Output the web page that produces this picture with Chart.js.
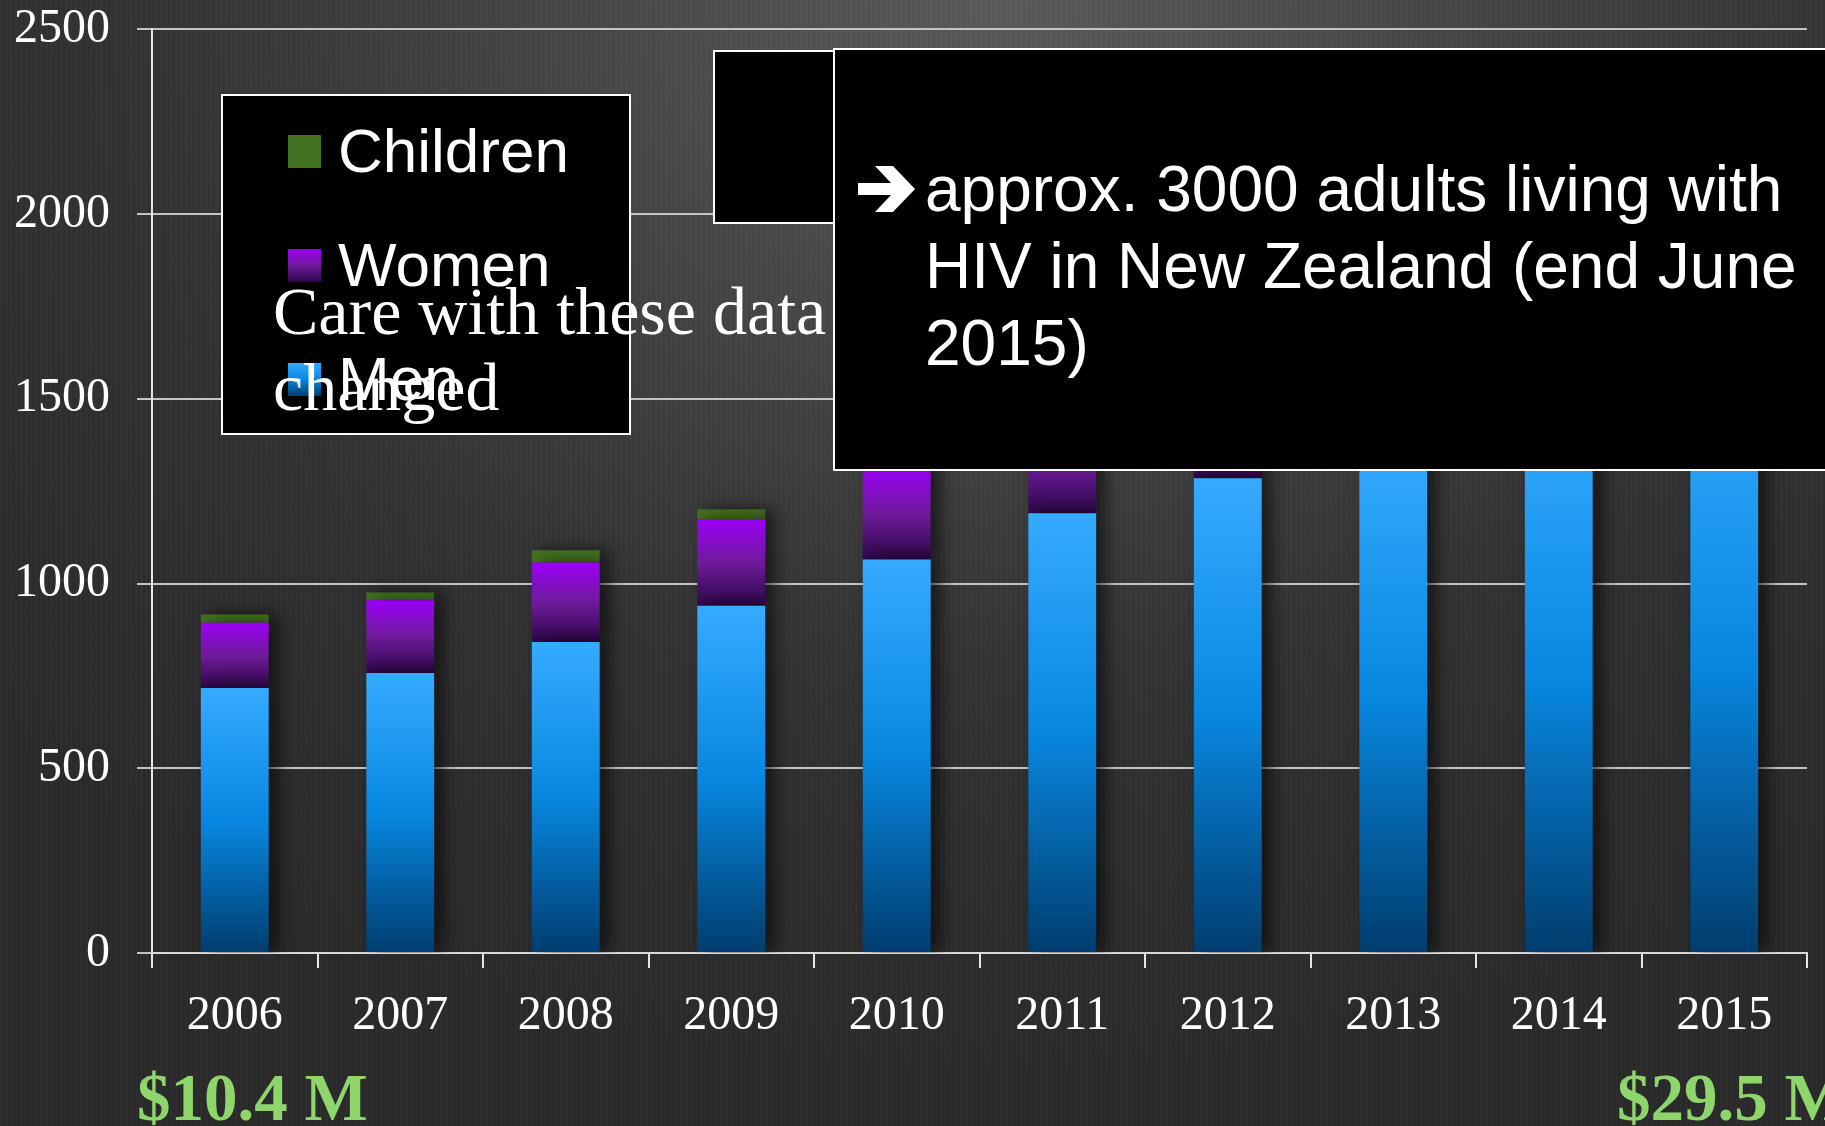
<!DOCTYPE html>
<html lang="en">

<head>
    <meta charset="UTF-8">
    <title>People living with HIV in New Zealand</title>
    <script src="https://cdn.jsdelivr.net/npm/chart.js"></script>
    <style>
        html, body {
            margin: 0;
            padding: 0;
            overflow: hidden;
        }

        #slide {
            position: relative;
            width: 1825px;
            height: 1126px;
            background:
                repeating-linear-gradient(90deg, rgba(255,255,255,0.015) 0px, rgba(255,255,255,0.015) 2px, rgba(0,0,0,0.02) 3px, rgba(0,0,0,0.02) 5px),
                radial-gradient(ellipse 75% 95% at 55% 0%, #5a5a5a 0%, #444 35%, #323232 65%, #2a2a2a 100%);
            font-family: "Liberation Sans", Arial, sans-serif;
            color: #fff;
        }

        #chartBox {
            position: absolute;
            left: 0;
            top: 0;
            width: 1825px;
            height: 1126px;
        }

        .box {
            position: absolute;
            background: #000;
            border: 2px solid #fff;
            box-sizing: border-box;
        }

        .legend-item {
            position: absolute;
            left: 338px;
            font-size: 62px;
            line-height: 62px;
            white-space: nowrap;
        }

        .swatch {
            position: absolute;
            left: 288px;
            width: 33px;
            height: 33px;
        }

        .note {
            position: absolute;
            font-family: "Liberation Serif", "Times New Roman", serif;
            white-space: nowrap;
        }

        .money {
            position: absolute;
            top: 1064px;
            font-family: "Liberation Serif", "Times New Roman", serif;
            font-weight: bold;
            font-size: 67px;
            line-height: 67px;
            color: #8ed66b;
            white-space: nowrap;
        }
    </style>
</head>

<body>
    <div id="slide">
        <div id="chartBox"><canvas id="hivChart"></canvas></div>

        <!-- legend box -->
        <div class="box" style="left:221px; top:94px; width:410px; height:341px;"></div>
        <div id="legend"></div>

        <div class="note" style="left:273px; top:273px; font-size:68px; line-height:76px;">Care with these data<br>changed</div>

        <!-- boxes top right -->
        <div class="box" style="left:713px; top:50px; width:124px; height:174px;"></div>
        <div class="box" style="left:833px; top:48px; width:1010px; height:423px;"></div>
        <svg style="position:absolute; left:0; top:0;" width="1825" height="300">
            <polygon fill="#fff" points="858,183 891,183 875,166 893,166 915,189 893,212 875,212 891,195 858,195"></polygon>
        </svg>
        <div style="position:absolute; left:925px; top:151px; font-size:64px; line-height:77px; white-space:nowrap;">approx. 3000 adults living with<br>HIV in New Zealand (end June<br>2015)</div>

        <div class="money" style="left:137px;">$10.4 M</div>
        <div class="money" style="left:1617px;">$29.5 M</div>
    </div>

    <script>
        const years = ["2006", "2007", "2008", "2009", "2010", "2011", "2012", "2013", "2014", "2015"];
        const men = [717, 758, 842, 940, 1065, 1190, 1285, 1380, 1475, 1570];
        const women = [177, 197, 215, 234, 250, 262, 275, 285, 295, 305];
        const children = [22, 21, 33, 27, 30, 30, 30, 30, 30, 30];
        const yTicks = [0, 500, 1000, 1500, 2000, 2500];

        const seriesNames = ["Men", "Women", "Children"];
        const series = [men, women, children];

        const menStops = [[0, "#35abff"], [0.5, "#0887e0"], [1, "#003d6e"]];
        const womenStops = [[0, "#9b00f7"], [0.5, "#6e1b9b"], [1, "#2c0747"]];
        const childColor = "#42721f";

        // gradient from the top of each stacked piece to its bottom
        function barFill(stops, k) {
            return function (c) {
                const chart = c.chart;
                const y = chart.scales.y;
                if (!chart.chartArea || !y || c.dataIndex === undefined) return stops[0][1];
                let base = 0;
                for (let j = 0; j < k; j++) base += series[j][c.dataIndex];
                const top = base + series[k][c.dataIndex];
                const g = chart.ctx.createLinearGradient(0, y.getPixelForValue(top), 0, y.getPixelForValue(base));
                stops.forEach(s => g.addColorStop(s[0], s[1]));
                return g;
            };
        }

        function cssGrad(stops) {
            return "linear-gradient(" + stops.map(s => s[1] + " " + (s[0] * 100) + "%").join(", ") + ")";
        }

        // legend built by hand, top entry first
        const legendEl = document.getElementById("legend");
        const legendFills = { Children: childColor, Women: cssGrad(womenStops), Men: cssGrad(menStops) };
        ["Children", "Women", "Men"].forEach(function (name, i) {
            const top = 135 + i * 114;
            legendEl.innerHTML += `<div class="swatch" style="top:${top}px; background:${legendFills[name]}"></div>` +
                `<div class="legend-item" style="top:${top - 15}px">${name}</div>`;
        });

        const barShadow = {
            id: "barShadow",
            beforeDatasetsDraw(chart) {
                const ctx = chart.ctx;
                ctx.save();
                ctx.shadowColor = "rgba(0,0,0,0.6)";
                ctx.shadowBlur = 16;
                ctx.shadowOffsetX = 9;
                ctx.shadowOffsetY = 0;
            },
            afterDatasetsDraw(chart) {
                chart.ctx.restore();
            }
        };

        Chart.defaults.font.family = "'Liberation Serif', 'Times New Roman', serif";
        Chart.defaults.color = "#ffffff";

        const ctx = document.getElementById("hivChart").getContext("2d");
        new Chart(ctx, {
            type: "bar",
            data: {
                labels: years,
                datasets: [
                    { label: seriesNames[0], data: men, backgroundColor: barFill(menStops, 0) },
                    { label: seriesNames[1], data: women, backgroundColor: barFill(womenStops, 1) },
                    { label: seriesNames[2], data: children, backgroundColor: childColor }
                ]
            },
            options: {
                responsive: true,
                maintainAspectRatio: false,
                animation: false,
                layout: { padding: { left: 13, right: 18, top: 2, bottom: 86 } },
                datasets: {
                    bar: { categoryPercentage: 1, barPercentage: 0.41, borderWidth: 0 }
                },
                plugins: {
                    legend: { display: false },
                    tooltip: { enabled: false }
                },
                scales: {
                    x: {
                        stacked: true,
                        afterFit(scale) { scale.height = 87; },
                        grid: { offset: true, drawOnChartArea: false, color: "#e6e6e6", lineWidth: 2, tickLength: 15 },
                        border: { display: true, color: "#d8d8d8", width: 2 },
                        ticks: { font: { size: 48 }, padding: 20, color: "#ffffff" }
                    },
                    y: {
                        stacked: true,
                        min: 0,
                        max: 2500,
                        afterFit(scale) { scale.width = 139; },
                        afterBuildTicks(scale) { scale.ticks = yTicks.map(v => ({ value: v })); },
                        grid: { color: "#c4c4c4", lineWidth: 2, tickLength: 15 },
                        border: { display: true, color: "#e6e6e6", width: 2 },
                        // small lineHeight only trims the space Chart.js reserves above the top label
                        ticks: { font: { size: 48, lineHeight: 0.1 }, padding: 27, color: "#ffffff", callback: v => String(v) }
                    }
                }
            },
            plugins: [barShadow]
        });
    </script>
</body>

</html>
